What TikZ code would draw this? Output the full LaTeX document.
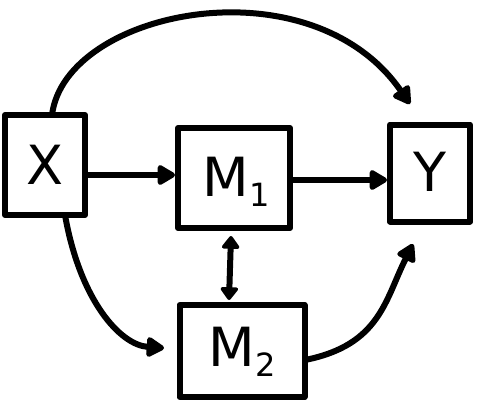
\documentclass[tikz,border=0pt]{standalone}
\usepackage{fontspec}
\setmainfont{DejaVu Sans}
\usetikzlibrary{arrows.meta}
\begin{document}
\begin{tikzpicture}[x=1pt,y=-1pt,
  line width=6pt, line cap=round, line join=round,
  box/.style={draw, rectangle, inner sep=0pt},
  lbl/.style={font=\fontsize{54}{54}\selectfont},
  arr/.style={-{Triangle[length=20pt,width=22pt,round]}},
  darr/.style={{Triangle[length=14pt,width=20pt,round]}-{Triangle[length=14pt,width=20pt,round]}}]
\useasboundingbox (0,0) rectangle (487,408);
\node[box, minimum width=80pt, minimum height=100pt] (X) at (45,165) {};
\node[lbl] (xt) at (45,165) {X};
\node[box, minimum width=112pt, minimum height=100pt] (M1) at (234,178) {};
\node[lbl] (m1t) at (236,182) {M\raisebox{-10pt}{\fontsize{32}{32}\selectfont 1}};
\node[box, minimum width=80pt, minimum height=97pt] (Y) at (430,173) {};
\node[lbl] (yt) at (430,172) {Y};
\node[box, minimum width=125pt, minimum height=92pt] (M2) at (242,351) {};
\node[lbl] (m2t) at (242,352) {M\raisebox{-10pt}{\fontsize{32}{32}\selectfont 2}};
\coordinate (xtop) at (52,115);
\coordinate (xbot) at (65,215);
\coordinate (ytopin) at (410,104);
\coordinate (ybotin) at (413,244);
\coordinate (m2in) at (164,348);
\coordinate (m2out) at (305,360);
\coordinate (m1b) at (231,236);
\coordinate (m2t2) at (229,300);
\draw[arr] (X.east |- 0,175) -- (M1.west |- 0,175);
\draw[arr] (M1.east |- 0,180) -- (Y.west |- 0,180);
\draw[arr] (xtop) .. controls (65,10) and (310,-40) .. (ytopin);
\draw[arr] (xbot) .. controls (80,300) and (120,345) .. (m2in);
\draw[arr] (m2out) .. controls (380,345) and (385,300) .. (ybotin);
\draw[darr] (m1b) -- (m2t2);
\end{tikzpicture}
\end{document}
